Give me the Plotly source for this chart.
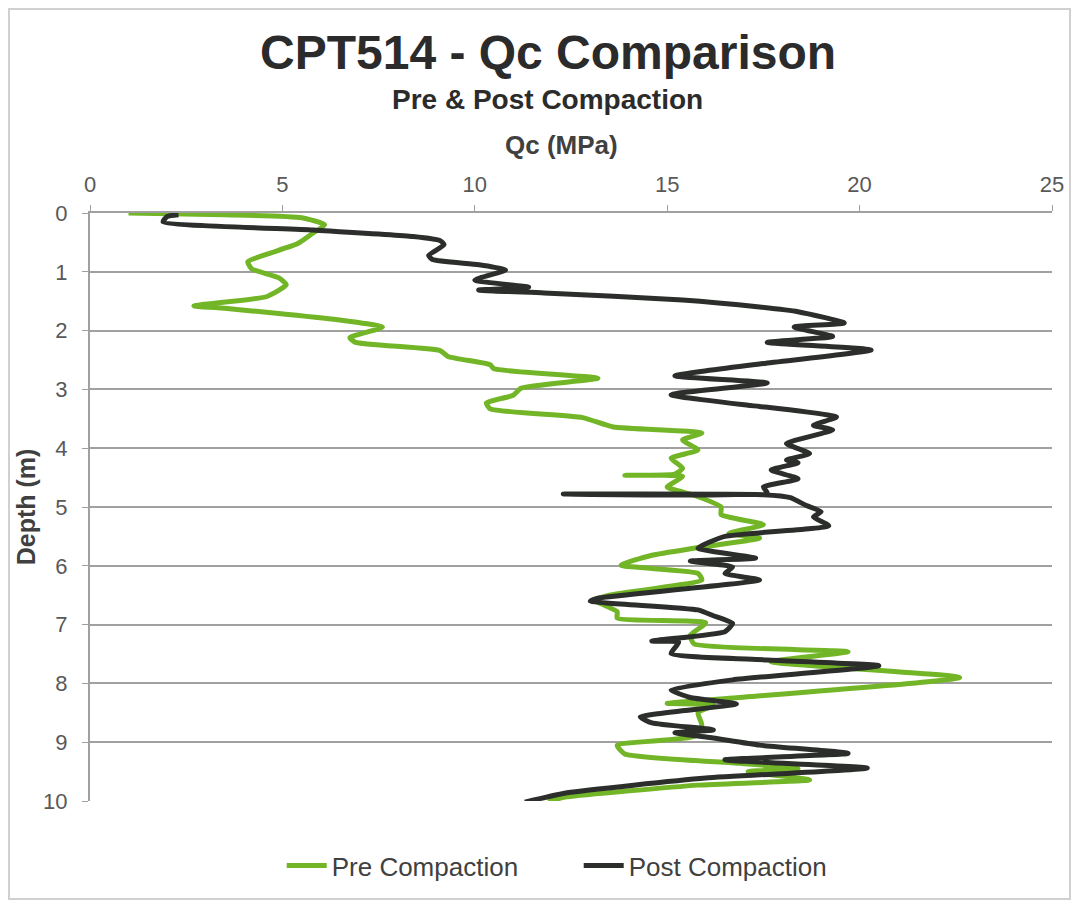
import plotly.graph_objects as go

# ---- Data ----
pre_qc = [1.0, 3.5, 5.5, 6.1, 5.8, 5.4, 4.6, 4.1, 4.2, 4.9, 5.1, 4.6, 2.7, 3.5, 4.9, 6.5, 7.6,
          6.75, 6.9, 9.1, 9.3, 10.4, 10.5, 13.2, 11.2, 11.0, 10.3, 10.4, 12.8, 13.6, 15.9, 15.4,
          15.8, 15.1, 15.4, 15.2, 13.9, 15.4, 15.0, 15.7, 16.4, 16.4, 17.5, 16.6, 17.4, 15.7,
          14.6, 13.8, 15.8, 15.9, 13.5, 13.1, 13.7, 13.7, 16.0, 15.6, 15.7, 19.7, 17.7, 22.6,
          16.7, 15.0, 16.2, 15.8, 15.9, 15.7, 13.7, 13.9, 16.9, 18.4, 17.1, 18.7, 15.8, 12.4, 11.9]
pre_depth = [0.0, 0.03, 0.08, 0.2, 0.34, 0.52, 0.7, 0.83, 0.95, 1.1, 1.22, 1.42, 1.58, 1.62, 1.71,
             1.82, 1.94, 2.12, 2.2, 2.34, 2.44, 2.58, 2.65, 2.81, 2.98, 3.1, 3.23, 3.33, 3.48, 3.64,
             3.74, 3.86, 4.03, 4.17, 4.34, 4.44, 4.46, 4.48, 4.66, 4.8, 5.0, 5.13, 5.3, 5.45, 5.53,
             5.7, 5.82, 5.99, 6.13, 6.24, 6.5, 6.58, 6.78, 6.89, 6.97, 7.18, 7.33, 7.46, 7.63, 7.9,
             8.25, 8.34, 8.37, 8.5, 8.71, 8.9, 9.05, 9.2, 9.36, 9.45, 9.5, 9.64, 9.73, 9.93, 10.0]

post_qc = [2.3, 2.0, 1.9, 5.8, 8.4, 9.1, 9.2, 8.8, 8.9, 10.1, 10.8, 10.0, 11.4, 10.1, 11.8, 15.4,
           17.4, 18.4, 19.6, 18.3, 19.3, 17.6, 20.3, 17.5, 15.2, 17.6, 15.1, 17.1, 17.4, 19.4,
           18.8, 19.3, 18.1, 18.7, 18.1, 18.4, 17.7, 18.4, 17.5, 17.6, 12.3, 17.5, 18.2, 18.6,
           19.0, 18.8, 19.2, 16.5, 15.8, 17.3, 15.6, 16.7, 16.5, 17.4, 13.2, 13.0, 15.8, 16.2,
           16.7, 16.5, 14.6, 15.3, 15.1, 17.6, 20.5, 16.7, 15.1, 15.6, 16.8, 14.3, 14.6, 16.2,
           15.2, 16.2, 17.4, 19.7, 16.5, 20.2, 16.0, 12.4, 11.3]
post_depth = [0.03, 0.06, 0.15, 0.29, 0.4, 0.47, 0.54, 0.72, 0.79, 0.88, 0.97, 1.14, 1.26, 1.31,
              1.36, 1.48, 1.6, 1.68, 1.87, 1.94, 2.1, 2.2, 2.33, 2.56, 2.77, 2.89, 3.09, 3.27, 3.29,
              3.47, 3.61, 3.69, 3.92, 4.09, 4.2, 4.25, 4.37, 4.52, 4.66, 4.76, 4.78, 4.79, 4.84,
              4.97, 5.08, 5.17, 5.32, 5.5, 5.7, 5.87, 5.92, 6.02, 6.13, 6.24, 6.55, 6.6, 6.75,
              6.85, 6.98, 7.12, 7.28, 7.3, 7.49, 7.6, 7.7, 7.94, 8.11, 8.24, 8.35, 8.57, 8.67,
              8.79, 8.84, 8.93, 9.05, 9.19, 9.3, 9.44, 9.61, 9.86, 10.02]

x_ticks = [0, 5, 10, 15, 20, 25]
y_ticks = [0, 1, 2, 3, 4, 5, 6, 7, 8, 9, 10]

GREEN = "#72b527"
DARK = "#2b2e2b"
FONT = "Liberation Sans, Arial, sans-serif"

fig = go.Figure()
fig.add_trace(go.Scatter(x=pre_qc, y=pre_depth, mode="lines", name="Pre Compaction",
                         line=dict(color=GREEN, width=5, shape="spline", smoothing=0.5)))
fig.add_trace(go.Scatter(x=post_qc, y=post_depth, mode="lines", name="Post Compaction",
                         line=dict(color=DARK, width=5, shape="spline", smoothing=0.5)))

fig.update_layout(
    width=1073, height=896,
    margin=dict(l=82, r=29, t=205, b=103),
    paper_bgcolor="white", plot_bgcolor="white",
    font=dict(family=FONT, color="#595959"),
    showlegend=True,
    legend=dict(orientation="h", x=0.508, xanchor="center", y=-0.11, yanchor="middle",
                entrywidth=242, itemwidth=40,
                font=dict(size=26, color="#404040"), bgcolor="rgba(0,0,0,0)"),
    xaxis=dict(side="top", range=[0, 25], tickvals=x_ticks, showgrid=False, zeroline=False,
               showline=True, linecolor="#a0a0a0", linewidth=2, ticks="outside", ticklen=6,
               tickcolor="#a0a0a0", tickwidth=1, ticklabelstandoff=4,
               tickfont=dict(size=22, color="#595959")),
    yaxis=dict(range=[10, 0], tickvals=y_ticks, showgrid=True, gridcolor="#a0a0a0", gridwidth=2,
               zeroline=False, showline=True, linecolor="#a0a0a0", linewidth=2,
               ticks="outside", ticklen=6, tickcolor="#a0a0a0", tickwidth=1,
               ticklabelstandoff=10,
               tickfont=dict(size=22, color="#595959"),
               title=dict(text="<b>Depth (m)</b>", font=dict(size=25, color="#404040"), standoff=0)),
    annotations=[
        dict(text="<b>CPT514 - Qc Comparison</b>", xref="paper", yref="paper", x=0.476, y=1.2738,
             xanchor="center", yanchor="middle", showarrow=False,
             font=dict(size=48, color="#2b2b2b", family=FONT)),
        dict(text="<b>Pre & Post Compaction</b>", xref="paper", yref="paper", x=0.476, y=1.1922,
             xanchor="center", yanchor="middle", showarrow=False,
             font=dict(size=28, color="#2b2b2b", family=FONT)),
        dict(text="<b>Qc (MPa)</b>", xref="paper", yref="paper", x=0.49, y=1.1156,
             xanchor="center", yanchor="middle", showarrow=False,
             font=dict(size=26, color="#404040", family=FONT)),
    ],
    shapes=[
        dict(type="rect", xref="paper", yref="paper", x0=-0.0842, x1=1.0187, y0=-0.1667, y1=1.347,
             line=dict(color="#d0d0d0", width=2), fillcolor="rgba(0,0,0,0)", layer="below"),
    ],
)

fig.write_html("out.html")
